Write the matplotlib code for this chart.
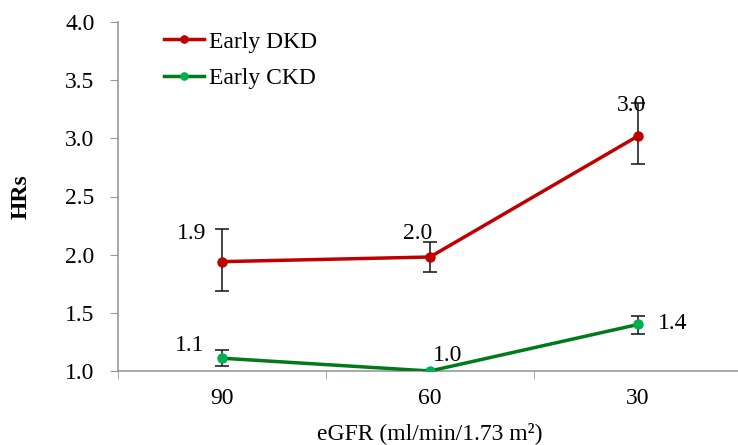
import matplotlib.pyplot as plt
import numpy as np

# data
egfr = ['90', '60', '30']
dkd_hr = [1.94, 1.98, 3.02]
dkd_lo = [1.69, 1.85, 2.78]
dkd_hi = [2.22, 2.11, 3.30]
ckd_hr = [1.11, 1.00, 1.40]
ckd_lo = [1.04, 1.00, 1.32]
ckd_hi = [1.18, 1.00, 1.47]
dkd_labels = ['1.9', '2.0', '3.0']
ckd_labels = ['1.1', '1.0', '1.4']

plt.rcParams['font.family'] = ['Liberation Serif', 'DejaVu Serif']
fs = 17

fig = plt.figure(figsize=(7.38, 4.45), dpi=100)
ax = fig.add_axes([118 / 738, 1 - 371 / 445, 624 / 738, 349 / 445])

x = np.arange(len(egfr))
red = '#C00000'
dgreen = '#007A1A'

def err(vals, lo, hi):
    vals = np.array(vals)
    return [vals - np.array(lo), np.array(hi) - vals]

ax.errorbar(x, dkd_hr, yerr=err(dkd_hr, dkd_lo, dkd_hi), fmt='none',
            ecolor='#222222', elinewidth=1.2, capsize=5, capthick=1.2, zorder=2)
ax.errorbar(x, ckd_hr, yerr=err(ckd_hr, ckd_lo, ckd_hi), fmt='none',
            ecolor='#222222', elinewidth=1.2, capsize=5, capthick=1.2, zorder=2)
ax.plot(x, dkd_hr, color=red, lw=2.5, marker='o', ms=6.5,
        mfc=red, mec=red, label='Early DKD', zorder=3)
ax.plot(x, ckd_hr, color=dgreen, lw=2.5, marker='o', ms=6.5,
        mfc='#00B050', mec='#00B050', label='Early CKD', zorder=3)

# value labels (offsets in points)
dkd_off = [(-22, 20), (-9, 17), (-5, 22)]
ckd_off = [(-23, 9), (13, 11), (25, 1)]
for i in range(len(egfr)):
    ax.annotate(dkd_labels[i], (x[i], dkd_hr[i]), xytext=dkd_off[i],
                textcoords='offset points', ha='center', va='center', fontsize=fs)
    ax.annotate(ckd_labels[i], (x[i], ckd_hr[i]), xytext=ckd_off[i],
                textcoords='offset points', ha='center', va='center', fontsize=fs)

ax.set_xlim(-0.5, 2.5)
ax.set_ylim(1.0, 4.0)
yt = np.arange(1.0, 4.01, 0.5)
ax.set_yticks(yt)
ax.set_yticklabels([f'{v:.1f}' for v in yt])
ax.set_xticks(x)
ax.set_xticklabels(egfr)
ax.set_xticks([-0.5, 0.5, 1.5, 2.5], minor=True)
ax.tick_params(axis='x', which='major', length=0, pad=12, labelsize=fs)
ax.tick_params(axis='x', which='minor', length=6, color='#999999', direction='out')
ax.tick_params(axis='y', length=6, color='#999999', labelsize=fs, pad=11)

for s in ['top', 'right']:
    ax.spines[s].set_visible(False)
for s in ['left', 'bottom']:
    ax.spines[s].set_color('#999999')
    ax.spines[s].set_linewidth(1.2)

ax.set_ylabel('HRs', fontsize=fs, fontweight='bold', labelpad=24)
ax.set_xlabel('eGFR (ml/min/1.73 m²)', fontsize=fs, labelpad=10)

ax.legend(loc='upper left', bbox_to_anchor=(0.04, 1.035), frameon=False,
          fontsize=fs, handlelength=1.7, handletextpad=0.2, labelspacing=0.65,
          markerscale=0.8)

fig.savefig('out.png', dpi=100)
